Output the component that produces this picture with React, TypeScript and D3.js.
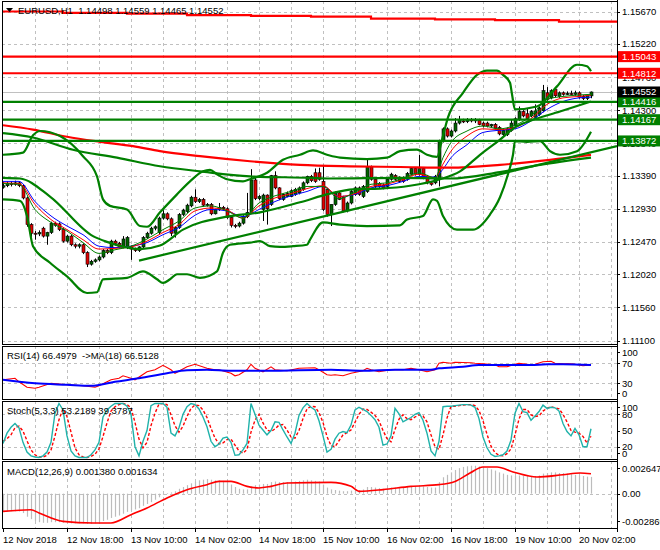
import React from "react";
import * as d3 from "d3";

const FONT = "'Liberation Sans', Arial, sans-serif";

// ---- price bars (EURUSD H1, bar 0 = 12 Nov 02:00) ----
const OPEN = [
  1.1323, 1.1325, 1.1328, 1.1327, 1.1329, 1.1325, 1.1308, 1.1271, 1.1259, 1.1258,
  1.1266, 1.1255, 1.1260, 1.1273, 1.1272, 1.1264, 1.1248, 1.1255, 1.1243, 1.1241,
  1.1243, 1.1232, 1.1216, 1.1220, 1.1222, 1.1226, 1.1235, 1.1232, 1.1248, 1.1245,
  1.1240, 1.1239, 1.1240, 1.1237, 1.1235, 1.1240, 1.1253, 1.1259, 1.1266, 1.1260,
  1.1280, 1.1286, 1.1279, 1.1259, 1.1267, 1.1285, 1.1289, 1.1297, 1.1309, 1.1303,
  1.1306, 1.1298, 1.1299, 1.1286, 1.1292, 1.1295, 1.1293, 1.1281, 1.1270, 1.1269,
  1.1273, 1.1282, 1.1288, 1.1333, 1.1307, 1.1292, 1.1312, 1.1299, 1.1339, 1.1322,
  1.1306, 1.1310, 1.1310, 1.1313, 1.1315, 1.1320, 1.1329, 1.1338, 1.1343, 1.1343,
  1.1331, 1.1320, 1.1285, 1.1299, 1.1315, 1.1309, 1.1290, 1.1301, 1.1313, 1.1322,
  1.1310, 1.1317, 1.1351, 1.1334, 1.1328, 1.1326, 1.1324, 1.1334, 1.1339, 1.1331,
  1.1336, 1.1334, 1.1341, 1.1349, 1.1341, 1.1349, 1.1338, 1.1329, 1.1329, 1.1334,
  1.1387, 1.1404, 1.1394, 1.1401, 1.1412, 1.1415, 1.1414, 1.1417, 1.1415, 1.1416,
  1.1412, 1.1412, 1.1408, 1.1410, 1.1406, 1.1396, 1.1396, 1.1402, 1.1408, 1.1417,
  1.1428, 1.1425, 1.1422, 1.1420, 1.1424, 1.1429, 1.1454, 1.1447, 1.1459, 1.1449,
  1.1454, 1.1452, 1.1453, 1.1452, 1.1454, 1.1449, 1.1446, 1.14498,
];
const HIGH = [
  1.1330, 1.1331, 1.1331, 1.1332, 1.1331, 1.1327, 1.1310, 1.1273, 1.1262, 1.1263,
  1.1268, 1.1261, 1.1275, 1.1275, 1.1274, 1.1266, 1.1257, 1.1257, 1.1245, 1.1245,
  1.1245, 1.1234, 1.1222, 1.1224, 1.1228, 1.1237, 1.1237, 1.1250, 1.1250, 1.1247,
  1.1255, 1.1255, 1.1242, 1.1239, 1.1241, 1.1255, 1.1261, 1.1268, 1.1270, 1.1282,
  1.1291, 1.1288, 1.1281, 1.1269, 1.1287, 1.1293, 1.1300, 1.1311, 1.1320, 1.1308,
  1.1308, 1.1301, 1.1301, 1.1293, 1.1301, 1.1297, 1.1295, 1.1283, 1.1272, 1.1275,
  1.1284, 1.1315, 1.1348, 1.1338, 1.1312, 1.1314, 1.1313, 1.1340, 1.1345, 1.1323,
  1.1314, 1.1317, 1.1320, 1.1322, 1.1324, 1.1331, 1.1339, 1.1340, 1.1349, 1.1350,
  1.1354, 1.1322, 1.1299, 1.1317, 1.1317, 1.1311, 1.1303, 1.1319, 1.1324, 1.1324,
  1.1326, 1.1362, 1.1353, 1.1336, 1.1330, 1.1328, 1.1336, 1.1343, 1.1341, 1.1338,
  1.1338, 1.1344, 1.1351, 1.1351, 1.1368, 1.1351, 1.1340, 1.1331, 1.1340, 1.1389,
  1.1406, 1.1406, 1.1403, 1.1419, 1.1422, 1.1418, 1.1419, 1.1419, 1.1419, 1.1418,
  1.1414, 1.1414, 1.1411, 1.1412, 1.1408, 1.1404, 1.1406, 1.1417, 1.1420, 1.1435,
  1.1430, 1.1433, 1.1430, 1.1438, 1.1435, 1.1465, 1.1462, 1.1459, 1.1461, 1.1456,
  1.1456, 1.1456, 1.1457, 1.1457, 1.1456, 1.1451, 1.1452, 1.14559,
];
const LOW = [
  1.1321, 1.1323, 1.1324, 1.1325, 1.1323, 1.1306, 1.1268, 1.1254, 1.1250, 1.1255,
  1.1253, 1.1243, 1.1258, 1.1268, 1.1262, 1.1246, 1.1246, 1.1241, 1.1238, 1.1238,
  1.1230, 1.1212, 1.1214, 1.1218, 1.1220, 1.1224, 1.1230, 1.1230, 1.1242, 1.1238,
  1.1238, 1.1237, 1.1222, 1.1233, 1.1233, 1.1238, 1.1251, 1.1257, 1.1263, 1.1258,
  1.1278, 1.1277, 1.1255, 1.1253, 1.1265, 1.1283, 1.1287, 1.1295, 1.1301, 1.1301,
  1.1296, 1.1296, 1.1284, 1.1285, 1.1290, 1.1291, 1.1279, 1.1267, 1.1266, 1.1267,
  1.1271, 1.1280, 1.1286, 1.1305, 1.1305, 1.1276, 1.1271, 1.1297, 1.1320, 1.1305,
  1.1304, 1.1309, 1.1309, 1.1311, 1.1313, 1.1318, 1.1327, 1.1330, 1.1329, 1.1332,
  1.1290, 1.1282, 1.1269, 1.1297, 1.1305, 1.1288, 1.1288, 1.1299, 1.1311, 1.1311,
  1.1308, 1.1315, 1.1332, 1.1322, 1.1322, 1.1320, 1.1322, 1.1332, 1.1332, 1.1329,
  1.1329, 1.1332, 1.1339, 1.1339, 1.1339, 1.1334, 1.1327, 1.1325, 1.1327, 1.1324,
  1.1385, 1.1392, 1.1392, 1.1399, 1.1410, 1.1412, 1.1412, 1.1413, 1.1412, 1.1409,
  1.1406, 1.1406, 1.1406, 1.1403, 1.1395, 1.1394, 1.1394, 1.1400, 1.1406, 1.1415,
  1.1420, 1.1416, 1.1420, 1.1418, 1.1422, 1.1427, 1.1443, 1.1445, 1.1448, 1.1447,
  1.1450, 1.1451, 1.1451, 1.1450, 1.1446, 1.1444, 1.1444, 1.14465,
];
const CLOSE = [
  1.1325, 1.1328, 1.1327, 1.1329, 1.1325, 1.1308, 1.1271, 1.1259, 1.1258, 1.1260,
  1.1255, 1.1260, 1.1273, 1.1270, 1.1264, 1.1248, 1.1255, 1.1243, 1.1241, 1.1243,
  1.1232, 1.1216, 1.1220, 1.1222, 1.1226, 1.1235, 1.1232, 1.1248, 1.1245, 1.1240,
  1.1251, 1.1253, 1.1237, 1.1235, 1.1240, 1.1253, 1.1259, 1.1266, 1.1268, 1.1280,
  1.1286, 1.1279, 1.1259, 1.1267, 1.1285, 1.1291, 1.1298, 1.1309, 1.1303, 1.1306,
  1.1298, 1.1299, 1.1286, 1.1292, 1.1295, 1.1293, 1.1281, 1.1270, 1.1269, 1.1273,
  1.1282, 1.1288, 1.1333, 1.1307, 1.1310, 1.1312, 1.1293, 1.1339, 1.1322, 1.1307,
  1.1313, 1.1314, 1.1318, 1.1320, 1.1322, 1.1329, 1.1338, 1.1332, 1.1331, 1.1334,
  1.1292, 1.1285, 1.1299, 1.1315, 1.1306, 1.1290, 1.1301, 1.1317, 1.1322, 1.1313,
  1.1324, 1.1351, 1.1334, 1.1324, 1.1324, 1.1322, 1.1334, 1.1341, 1.1334, 1.1336,
  1.1331, 1.1342, 1.1349, 1.1341, 1.1349, 1.1336, 1.1329, 1.1327, 1.1338, 1.1387,
  1.1404, 1.1394, 1.1401, 1.1412, 1.1417, 1.1414, 1.1417, 1.1415, 1.1417, 1.1410,
  1.1408, 1.1408, 1.1410, 1.1405, 1.1397, 1.1402, 1.1404, 1.1412, 1.1418, 1.1428,
  1.1422, 1.1417, 1.1428, 1.1429, 1.1433, 1.1457, 1.1445, 1.1457, 1.1450, 1.1454,
  1.1452, 1.1453, 1.1452, 1.1454, 1.1448, 1.1446, 1.1451, 1.14552,
];

// ---- thin moving averages (sampled at bars) ----
const MA_BARS = [0, 4, 8, 12, 16, 20, 24, 28, 32, 36, 40, 44, 48, 52, 56, 60, 64, 68, 72, 76,
  80, 84, 88, 92, 96, 100, 104, 108, 110, 112, 116, 120, 124, 128, 132, 136, 140, 144, 147];
const MA_BLUE = [1.1331, 1.1331, 1.1303, 1.1283, 1.1269, 1.1257, 1.1241, 1.1239, 1.1241, 1.1246,
  1.1257, 1.1267, 1.1284, 1.1292, 1.1290, 1.1282, 1.1292, 1.1303, 1.1311, 1.1317,
  1.1324, 1.1310, 1.1313, 1.1322, 1.1325, 1.1331, 1.1338, 1.1337, 1.1348, 1.1364,
  1.1382, 1.1399, 1.1402, 1.1404, 1.1415, 1.1431, 1.1442, 1.1447, 1.1448];
const MA_RED = [1.1329, 1.1328, 1.1299, 1.1278, 1.1264, 1.1250, 1.1237, 1.1238, 1.1240, 1.1248,
  1.1260, 1.1271, 1.1290, 1.1294, 1.1291, 1.1280, 1.1297, 1.1308, 1.1314, 1.1321,
  1.1325, 1.1310, 1.1314, 1.1324, 1.1327, 1.1334, 1.1341, 1.1336, 1.1355, 1.1373,
  1.1394, 1.1404, 1.1403, 1.1406, 1.1418, 1.1438, 1.1447, 1.1449, 1.1451];
const MA_GREEN = [1.1328, 1.1327, 1.1292, 1.1274, 1.1262, 1.1246, 1.1231, 1.1236, 1.1241, 1.1251,
  1.1264, 1.1276, 1.1294, 1.1297, 1.1290, 1.1280, 1.1301, 1.1311, 1.1317, 1.1324,
  1.1324, 1.1307, 1.1316, 1.1327, 1.1329, 1.1335, 1.1343, 1.1336, 1.1364, 1.1385,
  1.1401, 1.1408, 1.1404, 1.1409, 1.1422, 1.1445, 1.1449, 1.1451, 1.1452];

// ---- Bollinger bands ----
const BB_UPPER_BARS = [0, 5, 7.5, 9.25, 14.25, 20, 23.5, 25, 26.75, 31, 34.25, 36, 39.25, 43.5, 46.75,
  50, 51.75, 53.5, 56, 60, 61.75, 66, 70, 74.25, 77.5, 81, 84.25, 91, 96, 99.25, 103.5, 106, 108.5,
  109.75, 111.25, 115, 118.5, 121, 123.5, 125, 126.75, 127.25, 128, 133.5, 138.5, 143.5, 146, 147];
const BB_UPPER = [1.1368, 1.1371, 1.1395, 1.1401, 1.1394, 1.1366, 1.1338, 1.1306, 1.1297, 1.1292,
  1.1269, 1.1268, 1.1288, 1.1313, 1.1331, 1.1345, 1.1347, 1.1341, 1.1334, 1.1331,
  1.1334, 1.1343, 1.1361, 1.1368, 1.1374, 1.1368, 1.1364, 1.1362, 1.1364, 1.1373,
  1.1375, 1.1368, 1.1365, 1.1389, 1.1420, 1.1454, 1.1479, 1.1485, 1.1485, 1.1479,
  1.1468, 1.1452, 1.1431, 1.1435, 1.1463, 1.1493, 1.1491, 1.1484];
const BB_MID_BARS = [0, 4.25, 11.75, 22.5, 26, 34.25, 39.25, 45, 56, 64.25, 74.25, 81.75, 87.5, 94.25,
  101.75, 109.25, 114.25, 119.25, 124.25, 128, 131.75, 139.25, 147];
const BB_MID = [1.1336, 1.1335, 1.1310, 1.1255, 1.1247, 1.1237, 1.1242, 1.1264, 1.1282, 1.1288,
  1.1302, 1.1314, 1.1320, 1.1321, 1.1325, 1.1334, 1.1345, 1.1368, 1.1389, 1.1406,
  1.1415, 1.1428, 1.1442];
const BB_LOWER_BARS = [0, 4.25, 6, 7.5, 11.75, 16, 21, 23.5, 25, 31, 35, 38.5, 40, 41.75, 43.5, 46,
  49.25, 53.5, 55, 56.75, 61.75, 64.25, 66.75, 69.25, 72.5, 76, 76.75, 80, 84.25, 91, 99.25, 101,
  105, 107.5, 108.5, 110, 113.5, 117.5, 121.75, 124.25, 126.25, 127.5, 128, 131, 134.25, 136.75,
  139.25, 143.5, 147];
const BB_LOWER = [1.1306, 1.1304, 1.1283, 1.1241, 1.1218, 1.1199, 1.1176, 1.1177, 1.1195, 1.1197,
  1.1206, 1.1195, 1.1190, 1.1195, 1.1202, 1.1202, 1.1197, 1.1206, 1.1232, 1.1243,
  1.1246, 1.1248, 1.1241, 1.1240, 1.1241, 1.1243, 1.1250, 1.1274, 1.1271, 1.1269,
  1.1270, 1.1278, 1.1283, 1.1306, 1.1304, 1.1283, 1.1264, 1.1264, 1.1285, 1.1309,
  1.1341, 1.1368, 1.1387, 1.1386, 1.1387, 1.1373, 1.1368, 1.1373, 1.1400];

// ---- slow averages ----
const SLOW_MA_BARS = [0, 7.5, 17.5, 28.5, 39.25, 49.25, 61.75, 76.75, 81.75, 99.25, 111.75, 124.25, 134.25, 147];
const SLOW_MA = [1.1398, 1.1392, 1.1375, 1.1364, 1.1352, 1.1345, 1.1338, 1.1336, 1.1335, 1.1336,
  1.1335, 1.1344, 1.1354, 1.1364];
const LONG_MA_BARS = [0, 7.5, 16, 24.25, 32.5, 39.25, 49.25, 61.75, 74.25, 86.75, 99.25, 111.75, 124.25, 136.75, 147];
const LONG_MA = [1.1409, 1.1403, 1.1393, 1.1386, 1.1380, 1.1373, 1.1366, 1.1359, 1.1354, 1.1352,
  1.1351, 1.1350, 1.1354, 1.1361, 1.1368];

// ---- drawn objects ----
const TREND_BARS = [34, 153.5];
const TREND_PRICES = [1.1221, 1.1380];
const RED_LEVELS = [1.15043, 1.14812];
const GREEN_LEVELS = [1.14416, 1.14167, 1.13872];
const LAST_PRICE = 1.14552;
const STEP_BARS = [0, 15, 31, 46, 62, 77, 92, 108, 123, 139, 153.5];
const STEP_PRICES = [1.1567, 1.1565, 1.1564, 1.1562, 1.1561, 1.1560, 1.1557, 1.1556, 1.1555, 1.1553];

const PRICE_TICKS = [1.1567, 1.1522, 1.1476, 1.143, 1.1384, 1.1339, 1.1293, 1.1247, 1.1202, 1.1156, 1.111];
const TIME_BARS = [0, 16, 32, 48, 64, 80, 96, 112, 128, 144];
const TIME_LABELS = ["12 Nov 2018", "12 Nov 18:00", "13 Nov 10:00", "14 Nov 02:00", "14 Nov 18:00",
  "15 Nov 10:00", "16 Nov 02:00", "16 Nov 18:00", "19 Nov 10:00", "20 Nov 02:00"];

// ---- RSI ----
const RSI_BARS = [0, 3, 4, 6, 8, 9, 12, 16, 20, 23, 24, 27, 29, 30, 32, 33, 36, 38, 40, 42, 43, 46, 48,
  51, 53, 54, 57, 58, 59, 61, 62, 63, 65, 67, 68, 71, 74, 78, 79, 81, 82, 83, 85, 87, 90, 91, 92, 94,
  97, 100, 102, 104, 106, 108, 109, 110, 112, 113, 117, 118, 120, 123, 124, 126, 128, 129, 132, 133,
  135, 137, 138, 140, 142, 143, 145, 147];
const RSI = [37, 40, 33, 22, 20, 22, 30, 27, 25, 22, 25, 37, 40, 45, 40, 37, 53, 57, 66, 57, 50, 63, 68,
  60, 57, 57, 50, 45, 47, 57, 68, 60, 53, 63, 57, 55, 60, 61, 57, 47, 46, 47, 45, 50, 55, 60, 57, 53,
  57, 57, 60, 57, 53, 57, 70, 72, 70, 72, 71, 70, 69, 67, 63, 63, 68, 70, 67, 68, 73, 74, 70, 69, 69,
  68, 65, 66.5];
const RSI_MA_BARS = [0, 8, 16, 22, 28, 34, 41, 46, 51, 57, 66, 82, 90, 98, 107, 109, 115, 119, 123, 132, 136, 140, 147];
const RSI_MA = [37, 30, 27, 25, 33, 40, 50, 56, 57, 55, 55, 57, 55, 57, 57, 60, 63, 66.6, 66.6, 66.6, 68, 68, 66.5];
const RSI_LEVELS = [70, 30];

// ---- Stochastic ----
const STOCH_MAIN = [
  26, 45, 56, 63, 55, 28, 10, 3, 1, 0, 3, 10, 28, 82, 100, 88, 40, 12, 3, 0,
  0, 0, 5, 14, 28, 75, 88, 95, 100, 100, 100, 95, 80, 20, 3, 30, 50, 96, 100, 100,
  100, 93, 45, 40, 55, 80, 94, 100, 98, 90, 75, 57, 30, 20, 25, 36, 38, 28, 4, 5,
  14, 26, 100, 80, 60, 51, 42, 50, 66, 65, 51, 38, 26, 45, 78, 92, 100, 93, 88, 68,
  40, 10, 15, 34, 45, 48, 46, 60, 88, 93, 89, 85, 78, 70, 56, 23, 25, 40, 91, 81,
  66, 70, 74, 80, 83, 69, 45, 12, 3, 30, 94, 95, 95, 96, 97, 98, 98, 97, 93, 72,
  38, 18, 6, 2, 3, 5, 12, 32, 82, 100, 85, 83, 69, 77, 85, 97, 91, 93, 92, 86,
  63, 48, 40, 54, 42, 20, 20, 53.22,
];
const STOCH_SIGNAL = [
  30, 35, 42, 55, 58, 49, 31, 14, 5, 1, 1, 4, 14, 40, 70, 90, 76, 47, 18, 5,
  1, 0, 2, 6, 16, 39, 64, 86, 94, 98, 100, 98, 92, 65, 34, 18, 28, 59, 82, 99,
  100, 98, 79, 59, 47, 58, 76, 91, 97, 96, 88, 74, 54, 36, 25, 27, 33, 34, 23, 12,
  8, 15, 47, 69, 80, 64, 51, 48, 53, 60, 61, 51, 38, 36, 50, 72, 90, 95, 94, 83,
  65, 39, 22, 20, 31, 42, 46, 51, 65, 80, 90, 89, 84, 78, 68, 50, 35, 29, 52, 71,
  79, 72, 70, 75, 79, 77, 66, 42, 20, 15, 42, 73, 95, 95, 96, 97, 98, 98, 96, 87,
  68, 43, 21, 9, 4, 3, 7, 16, 42, 71, 89, 89, 79, 76, 77, 86, 91, 94, 92, 90,
  80, 66, 50, 47, 45, 39, 27, 39.38,
];
const STOCH_LEVELS = [80, 20];

// ---- MACD ----
const MACD_MAIN = [
  -1.45e-3, -1.45e-3, -1.45e-3, -1.45e-3, -1.47e-3, -1.6e-3, -1.9e-3, -2.1e-3, -2.25e-3, -2.35e-3,
  -2.4e-3, -2.4e-3, -2.35e-3, -2.35e-3, -2.35e-3, -2.4e-3, -2.4e-3, -2.45e-3, -2.45e-3, -2.45e-3,
  -2.45e-3, -2.5e-3, -2.5e-3, -2.45e-3, -2.35e-3, -2.25e-3, -2.15e-3, -2.0e-3, -1.9e-3, -1.8e-3,
  -1.65e-3, -1.5e-3, -1.4e-3, -1.3e-3, -1.2e-3, -1.0e-3, -0.85e-3, -0.7e-3, -0.5e-3, -0.3e-3,
  -0.1e-3, 0.05e-3, 0.1e-3, 0.2e-3, 0.4e-3, 0.55e-3, 0.7e-3, 0.85e-3, 1.0e-3, 1.1e-3,
  1.15e-3, 1.2e-3, 1.15e-3, 1.1e-3, 1.1e-3, 1.05e-3, 0.95e-3, 0.75e-3, 0.55e-3, 0.4e-3,
  0.35e-3, 0.35e-3, 0.6e-3, 0.7e-3, 0.75e-3, 0.8e-3, 0.8e-3, 0.95e-3, 1.0e-3, 0.95e-3,
  0.95e-3, 0.95e-3, 1.0e-3, 1.0e-3, 1.05e-3, 1.1e-3, 1.15e-3, 1.1e-3, 1.05e-3, 1.0e-3,
  0.75e-3, 0.5e-3, 0.35e-3, 0.3e-3, 0.25e-3, 0.2e-3, 0.2e-3, 0.25e-3, 0.3e-3, 0.3e-3,
  0.35e-3, 0.55e-3, 0.55e-3, 0.5e-3, 0.45e-3, 0.4e-3, 0.45e-3, 0.5e-3, 0.5e-3, 0.5e-3,
  0.5e-3, 0.55e-3, 0.6e-3, 0.6e-3, 0.65e-3, 0.6e-3, 0.55e-3, 0.5e-3, 0.5e-3, 0.95e-3,
  1.35e-3, 1.55e-3, 1.75e-3, 1.95e-3, 2.1e-3, 2.2e-3, 2.25e-3, 2.3e-3, 2.3e-3, 2.25e-3,
  2.2e-3, 2.1e-3, 2.0e-3, 1.9e-3, 1.75e-3, 1.65e-3, 1.55e-3, 1.5e-3, 1.45e-3, 1.5e-3,
  1.45e-3, 1.45e-3, 1.45e-3, 1.45e-3, 1.5e-3, 1.65e-3, 1.7e-3, 1.75e-3, 1.75e-3, 1.7e-3,
  1.7e-3, 1.65e-3, 1.6e-3, 1.55e-3, 1.5e-3, 1.45e-3, 1.4e-3, 1.38e-3,
];
const MACD_SIG_BARS = [0, 7, 9, 15, 22.5, 27, 32, 36, 41, 46, 51, 54, 57, 61, 64, 67, 71, 82, 87, 89, 95,
  102, 109, 113, 116.75, 120, 123.5, 127.5, 133.5, 140, 144.25, 147];
const MACD_SIGNAL = [-1.46e-3, -1.32e-3, -1.59e-3, -2.28e-3, -2.41e-3, -2.41e-3, -1.73e-3, -1.18e-3,
  -0.35e-3, 0.33e-3, 0.74e-3, 1.01e-3, 1.01e-3, 0.6e-3, 0.47e-3, 0.6e-3, 0.88e-3, 0.93e-3, 0.6e-3,
  0.19e-3, 0.33e-3, 0.6e-3, 0.74e-3, 1.01e-3, 1.7e-3, 2.2e-3, 2.2e-3, 1.79e-3, 1.37e-3, 1.56e-3,
  1.7e-3, 1.634e-3];

// ---- layout ----
const PL = 2, PR = 617;
const MAIN = { top: 1, bottom: 344 };
const RSIP = { top: 346, bottom: 399 };
const STP = { top: 401, bottom: 459 };
const MCP = { top: 461, bottom: 528 };

const x = d3.scaleLinear().domain([0, 1]).range([3, 7]);
const yMain = d3.scaleLinear().domain([1.111, 1.1567]).range([340.5, 11.5]);
const yRsi = d3.scaleLinear().domain([0, 100]).range([398.3, 348.3]);
const yStoch = d3.scaleLinear().domain([0, 100]).range([457.5, 403.5]);
const yMacd = d3.scaleLinear().domain([-0.002869, 0.002647]).range([528.5, 461.5]);

const GRID = "#c0c0c0";
const GREEN = "#008000";
const RED = "#ff0000";

function path(bars: number[], vals: number[], y: (v: number) => number, curve: any = d3.curveLinear) {
  return d3.line<number>().x((_, i) => x(bars[i])).y((v) => y(v)).curve(curve)(vals) || "";
}
const seq = (n: number) => d3.range(n);
const clampY = (v: number, p: { top: number; bottom: number }, pad = 6) =>
  Math.max(p.top + pad, Math.min(p.bottom - pad, v));

function Frame({ p }: { p: { top: number; bottom: number } }) {
  return <rect x={PL + 0.5} y={p.top + 0.5} width={PR - PL} height={p.bottom - p.top} fill="none" stroke="#000" />;
}

function VGrid({ p }: { p: { top: number; bottom: number } }) {
  return (
    <g>
      {d3.range(8, 153, 8).map((b) => (
        <line key={b} x1={Math.round(x(b)) + 0.5} x2={Math.round(x(b)) + 0.5} y1={p.top} y2={p.bottom}
          stroke={GRID} strokeDasharray="3,3" />
      ))}
    </g>
  );
}

function AxisLabel({ y, text }: { y: number; text: string }) {
  return (
    <g>
      <line x1={PR} x2={PR + 3} y1={Math.round(y) + 0.5} y2={Math.round(y) + 0.5} stroke="#000" />
      <text x={622} y={y} dominantBaseline="central" fontSize={9.5}>{text}</text>
    </g>
  );
}

export default function App() {
  const closes = seq(CLOSE.length);
  const smooth = d3.curveMonotoneX;

  return (
    <svg width={660} height={550} style={{ position: "absolute", left: 0, top: 0, background: "#fff" }}
      fontFamily={FONT}>
      <defs>
        <clipPath id="cMain"><rect x={PL + 1} y={MAIN.top + 1} width={PR - PL - 1} height={MAIN.bottom - MAIN.top - 1} /></clipPath>
        <clipPath id="cRsi"><rect x={PL + 1} y={RSIP.top + 1} width={PR - PL - 1} height={RSIP.bottom - RSIP.top - 1} /></clipPath>
        <clipPath id="cSt"><rect x={PL + 1} y={STP.top + 1} width={PR - PL - 1} height={STP.bottom - STP.top - 1} /></clipPath>
        <clipPath id="cMc"><rect x={PL + 1} y={MCP.top + 1} width={PR - PL - 1} height={MCP.bottom - MCP.top - 1} /></clipPath>
      </defs>

      {/* ===== main window ===== */}
      <g clipPath="url(#cMain)">
        <VGrid p={MAIN} />
        {PRICE_TICKS.map((t) => (
          <line key={t} x1={PL} x2={PR} y1={Math.round(yMain(t)) + 0.5} y2={Math.round(yMain(t)) + 0.5}
            stroke={GRID} strokeDasharray="3,3" />
        ))}
        <line x1={PL} x2={PR} y1={Math.round(yMain(LAST_PRICE)) + 0.5} y2={Math.round(yMain(LAST_PRICE)) + 0.5}
          stroke="#c0c0c0" />

        {/* candles */}
        {closes.map((i) => {
          const cx = Math.round(x(i)) + 0.5;
          const yo = yMain(OPEN[i]), yc = yMain(CLOSE[i]);
          const top = Math.min(yo, yc), h = Math.max(1, Math.abs(yo - yc));
          const bull = CLOSE[i] >= OPEN[i];
          return (
            <g key={i}>
              <line x1={cx} x2={cx} y1={yMain(HIGH[i])} y2={yMain(LOW[i])} stroke="#000" />
              <rect x={cx - 1.5} y={top} width={3} height={h} fill={bull ? "#006400" : "#e00000"}
                stroke="#000" strokeWidth={0.6} />
            </g>
          );
        })}

        {/* thin MAs */}
        <path d={path(MA_BARS, MA_BLUE, yMain, smooth)} fill="none" stroke="#0000ff" strokeWidth={1} />
        <path d={path(MA_BARS, MA_RED, yMain, smooth)} fill="none" stroke={RED} strokeWidth={1} />
        <path d={path(MA_BARS, MA_GREEN, yMain, smooth)} fill="none" stroke={GREEN} strokeWidth={1} />

        {/* thick indicator lines */}
        <path d={path(LONG_MA_BARS, LONG_MA, yMain, smooth)} fill="none" stroke={RED} strokeWidth={2.2} />
        <path d={path(SLOW_MA_BARS, SLOW_MA, yMain, smooth)} fill="none" stroke={GREEN} strokeWidth={2.2} />
        <path d={path(BB_UPPER_BARS, BB_UPPER, yMain, smooth)} fill="none" stroke={GREEN} strokeWidth={2.2} />
        <path d={path(BB_MID_BARS, BB_MID, yMain, smooth)} fill="none" stroke={GREEN} strokeWidth={2.2} />
        <path d={path(BB_LOWER_BARS, BB_LOWER, yMain, smooth)} fill="none" stroke={GREEN} strokeWidth={2.2} />
        <path d={path(TREND_BARS, TREND_PRICES, yMain)} fill="none" stroke={GREEN} strokeWidth={2.2} />

        {/* horizontal levels */}
        {RED_LEVELS.map((v) => (
          <line key={v} x1={PL} x2={PR} y1={yMain(v)} y2={yMain(v)} stroke={RED} strokeWidth={2.2} />
        ))}
        {GREEN_LEVELS.map((v) => (
          <line key={v} x1={PL} x2={PR} y1={yMain(v)} y2={yMain(v)} stroke={GREEN} strokeWidth={2.2} />
        ))}
        {/* stepped level at the top */}
        <path
          d={d3.line<number>().x((b) => x(b)).y((_, i) => yMain(STEP_PRICES[Math.min(i, STEP_PRICES.length - 1)]))
            .curve(d3.curveStepAfter)(STEP_BARS) || ""}
          fill="none" stroke={RED} strokeWidth={2.2} />
      </g>

      <text x={18} y={10} dominantBaseline="central" fontSize={9.5} style={{ whiteSpace: "pre" }}>
        {"EURUSD,H1  1.14498 1.14559 1.14465 1.14552"}
      </text>
      <path d="M6,8 L13,8 L9.5,12 Z" fill="#000" />

      {/* ===== RSI window ===== */}
      <g clipPath="url(#cRsi)">
        <VGrid p={RSIP} />
        {RSI_LEVELS.map((v) => (
          <line key={v} x1={PL} x2={PR} y1={Math.round(yRsi(v)) + 0.5} y2={Math.round(yRsi(v)) + 0.5}
            stroke={GRID} strokeDasharray="3,3" />
        ))}
        <path d={path(RSI_BARS, RSI, yRsi)} fill="none" stroke={RED} strokeWidth={1.1} />
        <path d={path(RSI_MA_BARS, RSI_MA, yRsi, smooth)} fill="none" stroke="#0000ff" strokeWidth={2} />
      </g>
      <text x={7} y={355} dominantBaseline="central" fontSize={9.5} style={{ whiteSpace: "pre" }}>
        {"RSI(14) 66.4979  ->MA(18) 66.5128"}
      </text>

      {/* ===== Stochastic window ===== */}
      <g clipPath="url(#cSt)">
        <VGrid p={STP} />
        {STOCH_LEVELS.map((v) => (
          <line key={v} x1={PL} x2={PR} y1={Math.round(yStoch(v)) + 0.5} y2={Math.round(yStoch(v)) + 0.5}
            stroke={GRID} strokeDasharray="3,3" />
        ))}
        <path d={path(seq(STOCH_SIGNAL.length), STOCH_SIGNAL, yStoch)} fill="none" stroke={RED}
          strokeWidth={1.4} strokeDasharray="3,2" />
        <path d={path(seq(STOCH_MAIN.length), STOCH_MAIN, yStoch)} fill="none" stroke="#20b2aa" strokeWidth={1.4} />
      </g>
      <text x={7} y={410} dominantBaseline="central" fontSize={9.5}>Stoch(5,3,3) 53.2189 39.3787</text>

      {/* ===== MACD window ===== */}
      <g clipPath="url(#cMc)">
        <VGrid p={MCP} />
        <line x1={PL} x2={PR} y1={Math.round(yMacd(0)) + 0.5} y2={Math.round(yMacd(0)) + 0.5}
          stroke={GRID} strokeDasharray="3,3" />
        {MACD_MAIN.map((v, i) => (
          <line key={i} x1={Math.round(x(i)) + 0.5} x2={Math.round(x(i)) + 0.5} y1={yMacd(0)} y2={yMacd(v)}
            stroke="#bcbcbc" strokeWidth={1.2} />
        ))}
        <path d={path(MACD_SIG_BARS, MACD_SIGNAL, yMacd, smooth)} fill="none" stroke={RED} strokeWidth={1.6} />
      </g>
      <text x={7} y={471} dominantBaseline="central" fontSize={9.5}>MACD(12,26,9) 0.001380 0.001634</text>

      {/* frames */}
      <Frame p={MAIN} />
      <Frame p={RSIP} />
      <Frame p={STP} />
      <Frame p={MCP} />
      <line x1={PR + 0.5} x2={PR + 0.5} y1={0} y2={532} stroke="#000" />

      {/* right axis: main */}
      {PRICE_TICKS.map((t) => <AxisLabel key={t} y={yMain(t)} text={t.toFixed(5)} />)}
      {[...RED_LEVELS.map((v) => [v, RED]), ...GREEN_LEVELS.map((v) => [v, GREEN]), [LAST_PRICE, "#000"]].map(
        ([v, c]) => (
          <g key={String(v)}>
            <rect x={618} y={yMain(v as number) - 5.5} width={42} height={11} fill={c as string} />
            <text x={622} y={yMain(v as number)} dominantBaseline="central" fontSize={9.5} fill="#fff">
              {(v as number).toFixed(5)}
            </text>
          </g>
        )
      )}

      {/* right axis: RSI */}
      {[100, 70, 30, 0].map((v) => <AxisLabel key={v} y={clampY(yRsi(v), RSIP)} text={String(v)} />)}
      {/* right axis: Stoch */}
      {[100, 80, 50, 20, 0].map((v) => <AxisLabel key={v} y={clampY(yStoch(v), STP)} text={String(v)} />)}
      {/* right axis: MACD */}
      {[0.002647, 0, -0.002869].map((v) => (
        <AxisLabel key={v} y={clampY(yMacd(v), MCP, 7)} text={v === 0 ? "0.00" : v.toFixed(6)} />
      ))}

      {/* time axis */}
      {TIME_BARS.map((b, i) => (
        <g key={b}>
          <line x1={Math.round(x(b)) + 0.5} x2={Math.round(x(b)) + 0.5} y1={MCP.bottom} y2={MCP.bottom + 4} stroke="#000" />
          <text x={x(b)} y={539} dominantBaseline="central" fontSize={9.5}>{TIME_LABELS[i]}</text>
        </g>
      ))}
    </svg>
  );
}
